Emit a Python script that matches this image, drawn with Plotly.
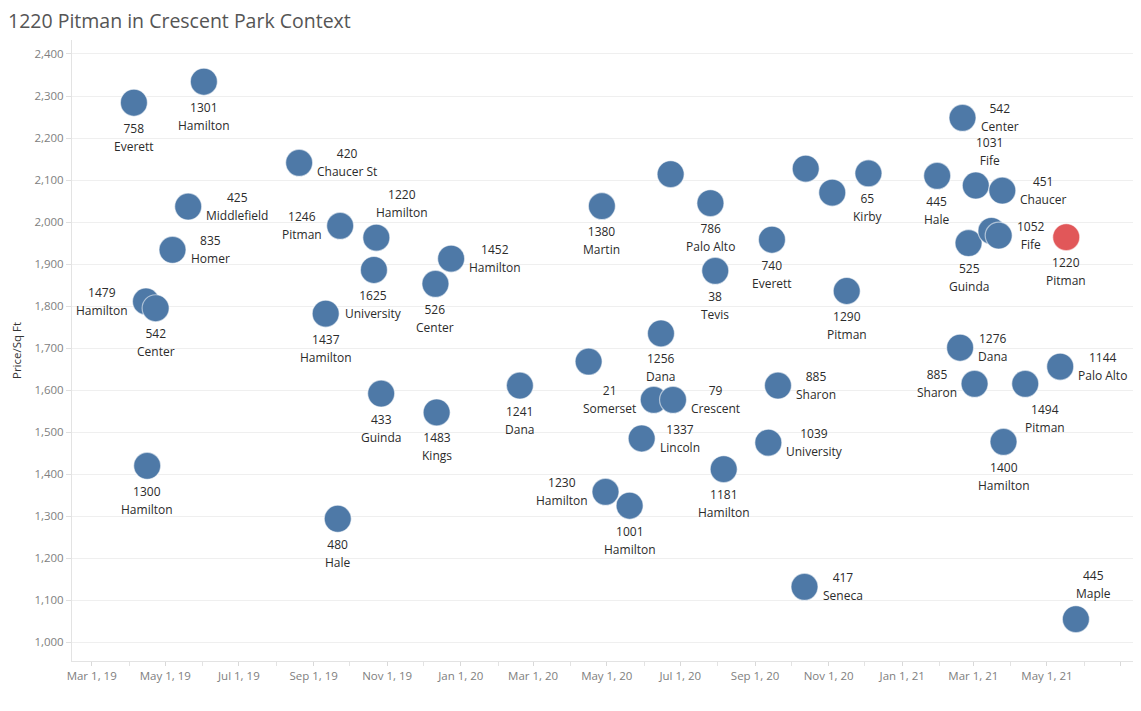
import plotly.graph_objects as go

# ---- data ----
sale_dates = [
    "2019-04-05", "2019-06-02", "2019-08-20", "2019-05-20", "2019-05-07",
    "2019-04-15", "2019-04-23", "2019-09-23", "2019-04-16", "2019-09-21",
    "2019-10-23", "2019-10-21", "2019-12-24", "2019-12-11", "2019-09-11",
    "2020-04-27", "2019-10-27", "2019-12-12", "2020-02-19", "2020-04-16",
    "2020-06-15", "2020-06-09", "2020-06-25", "2020-05-30", "2020-04-30",
    "2020-05-20", "2020-06-23", "2020-07-26", "2020-07-30", "2020-08-06",
    "2020-09-15", "2020-09-20", "2020-09-12", "2020-10-12", "2020-10-13",
    "2020-11-04", "2020-12-04", "2020-11-16", "2021-01-30", "2021-02-20",
    "2021-03-03", "2021-03-25", "2021-02-25", "2021-03-16", "2021-03-22",
    "2021-05-17", "2021-02-18", "2021-03-02", "2021-04-13", "2021-05-12",
    "2021-03-26", "2021-05-25",
]
price_per_sqft = [
    2284, 2334, 2141, 2037, 1934,
    1811, 1795, 1991, 1420, 1294,
    1963, 1886, 1913, 1853, 1782,
    2038, 1592, 1547, 1611, 1668,
    1735, 1577, 1577, 1485, 1358,
    1325, 2114, 2045, 1884, 1412,
    1958, 1611, 1475, 1132, 2127,
    2070, 2116, 1836, 2110, 2248,
    2087, 2075, 1950, 1979, 1968,
    1964, 1701, 1615, 1615, 1656,
    1477, 1055,
]
street_numbers = [
    "758", "1301", "420", "425", "835",
    "1479", "542", "1246", "1300", "480",
    "1220", "1625", "1452", "526", "1437",
    "1380", "433", "1483", "1241", "",
    "1256", "21", "79", "1337", "1230",
    "1001", "", "786", "38", "1181",
    "740", "885", "1039", "417", "",
    "", "65", "1290", "445", "542",
    "1031", "451", "525", "", "1052",
    "1220", "1276", "885", "1494", "1144",
    "1400", "445",
]
street_names = [
    "Everett", "Hamilton", "Chaucer St", "Middlefield", "Homer",
    "Hamilton", "Center", "Pitman", "Hamilton", "Hale",
    "Hamilton", "University", "Hamilton", "Center", "Hamilton",
    "Martin", "Guinda", "Kings", "Dana", "",
    "Dana", "Somerset", "Crescent", "Lincoln", "Hamilton",
    "Hamilton", "", "Palo Alto", "Tevis", "Hamilton",
    "Everett", "Sharon", "University", "Seneca", "",
    "", "Kirby", "Pitman", "Hale", "Center",
    "Fife", "Chaucer", "Guinda", "", "Fife",
    "Pitman", "Dana", "Sharon", "Pitman", "Palo Alto",
    "Hamilton", "Maple",
]
# where each mark label sits: b=below, r=right, l=left, tr=top-right, br=bottom-right, ""=hidden
label_side = [
    "b", "b", "r", "r", "r",
    "l", "b", "l", "b", "b",
    "tr", "b", "r", "b", "b",
    "b", "b", "b", "b", "",
    "b", "l", "r", "r", "l",
    "b", "", "b", "b", "b",
    "b", "r", "r", "r", "",
    "", "b", "b", "b", "r",
    "tr", "r", "b", "", "r",
    "b", "r", "l", "br", "r",
    "b", "tr",
]
subject_property = "1220 Pitman"

x_tick_start = "2019-03-01"
x_range = ["2019-02-12 16:00", "2021-07-15 12:00"]
y_range = [955.5, 2433.3]
y_tick_values = list(range(1000, 2401, 100))

# ---- styling ----
BLUE = "#4e79a7"
RED = "#e15759"
FONT = "Open Sans"

addresses = [f"{n} {s}".strip() for n, s in zip(street_numbers, street_names)]
colors = [RED if a == subject_property else BLUE for a in addresses]

fig = go.Figure()
fig.add_trace(go.Scatter(
    x=sale_dates, y=price_per_sqft, mode="markers",
    marker=dict(size=27, color=colors, opacity=1,
                line=dict(width=1.2, color="rgba(255,255,255,0.55)")),
    text=addresses, hoverinfo="text", showlegend=False,
))

placement = {
    "b": dict(xanchor="center", yanchor="top", xshift=0, yshift=-15),
    "r": dict(xanchor="left", yanchor="middle", xshift=16, yshift=0),
    "l": dict(xanchor="right", yanchor="middle", xshift=-16, yshift=0),
    "tr": dict(xanchor="left", yanchor="bottom", xshift=-2, yshift=15),
    "br": dict(xanchor="left", yanchor="top", xshift=-2, yshift=-15),
}
annotations = []
for d, v, num, st, side in zip(sale_dates, price_per_sqft, street_numbers, street_names, label_side):
    if not side:
        continue
    txt = (f"<span style='font-size:12px'>{num}</span><br>"
           f"<span style='font-size:12px'>{st}</span>")
    annotations.append(dict(
        x=d, y=v, xref="x", yref="y", text=txt, showarrow=False, align="center",
        font=dict(family=FONT, size=13.6, color="#2b2b2b"),
        **placement[side],
    ))

# the page adds an 8px body margin, so the figure is sized to fit the window
fig.update_layout(
    width=1133, height=703,
    margin=dict(l=64, r=3, t=32, b=50),
    paper_bgcolor="white", plot_bgcolor="white",
    title=dict(text="1220 Pitman in Crescent Park Context",
               font=dict(family=FONT, size=19.5, color="#555555"),
               x=0, xanchor="left", xref="container", pad=dict(l=0, t=0, b=0, r=0),
               y=1 - 13.5 / 703, yanchor="middle", yref="container"),
    annotations=annotations,
    font=dict(family=FONT),
)
fig.update_xaxes(
    type="date", range=x_range,
    tick0=x_tick_start, dtick="M2", tickformat="%b %-d, %y",
    ticks="outside", ticklen=4, tickcolor="#d9d9d9",
    minor=dict(dtick="M1", ticks="outside", ticklen=4, tickcolor="#e3e3e3", showgrid=False),
    showgrid=False, zeroline=False,
    showline=True, linecolor="#e3e3e3", linewidth=1,
    tickfont=dict(family=FONT, size=11.5, color="#808080"),
)
fig.update_yaxes(
    range=y_range, tickvals=y_tick_values, tickformat=",d",
    ticks="outside", ticklen=5, tickcolor="#e0e0e0",
    showgrid=True, gridcolor="#efefef", gridwidth=1, zeroline=False,
    showline=True, linecolor="#e3e3e3", linewidth=1,
    tickfont=dict(family=FONT, size=11.5, color="#808080"),
    title=dict(text="Price/Sq Ft", font=dict(family=FONT, size=11.5, color="#333333"), standoff=10),
)

fig.write_html("out.html")
